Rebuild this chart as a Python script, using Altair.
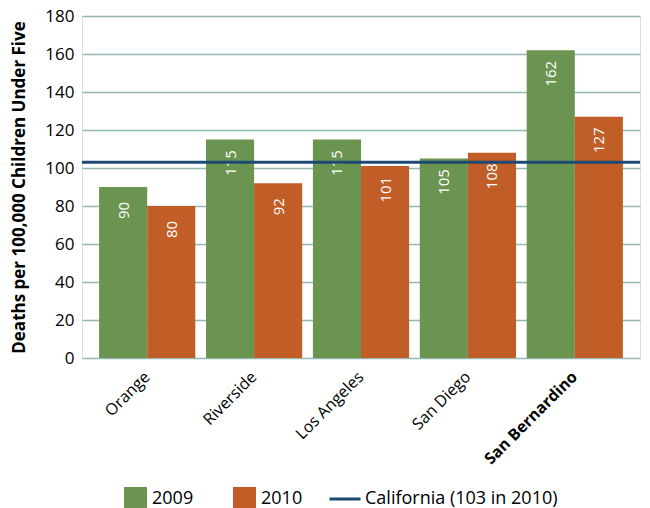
import altair as alt
import pandas as pd

counties = ["Orange", "Riverside", "Los Angeles", "San Diego", "San Bernardino"]
deaths_2009 = [90, 115, 115, 105, 162]
deaths_2010 = [80, 92, 101, 108, 127]
years = ["2009", "2010"]
ca_label = "California (103 in 2010)"
ca_value = [103]
y_ticks = [0, 20, 40, 60, 80, 100, 120, 140, 160, 180]

rows = []
for c, a, b in zip(counties, deaths_2009, deaths_2010):
    rows.append({"county": c, "series": "2009", "value": a})
    rows.append({"county": c, "series": "2010", "value": b})
df = pd.DataFrame(rows)
ca_df = pd.DataFrame({"series": [ca_label], "value": ca_value})

GREEN = "#6a9450"
ORANGE = "#c15e28"
NAVY = "#1d4a73"
GRID = "#94b9b0"
FONT = "Open Sans"

fill_legend = alt.Legend(
    title=None, orient="none", legendX=42, legendY=471, direction="horizontal",
    columnPadding=39, labelFontSize=18, labelFont=FONT, labelColor="black",
    labelLimit=0, labelOffset=5, symbolType="square", symbolSize=529,
    symbolStrokeWidth=0, symbolOpacity=1,
)
stroke_legend = alt.Legend(
    title=None, orient="none", legendX=246, legendY=466, direction="horizontal",
    labelFontSize=18, labelFont=FONT, labelColor="black",
    labelLimit=0, labelOffset=3, symbolType="stroke", symbolSize=961,
    symbolStrokeWidth=3, symbolOpacity=1,
)

x_axis = alt.Axis(
    labelAngle=-45, labelAlign="right", labelBaseline="middle", labelPadding=16,
    labelFontSize=16, labelFont=FONT, labelColor="black", ticks=False, domain=False, grid=False,
    labelOverlap=False, labelLimit=0,
    labelFontWeight=alt.ExprRef("datum.value === 'San Bernardino' ? 'bold' : 'normal'"),
)
y_axis = alt.Axis(
    values=y_ticks, ticks=False, domain=False, grid=True, gridColor=GRID, gridWidth=1.5,
    gridOpacity=1, labelFontSize=17, labelFont=FONT, labelColor="black", labelPadding=8,
    labelOverlap=False, labelBound=False, labelFlush=False,
    titleFontSize=17, titleFont=FONT, titleFontWeight="bold", titleColor="black", titlePadding=16,
)
x_scale = alt.Scale(paddingInner=0.1, paddingOuter=0.16)
y_scale = alt.Scale(domain=[0, 180], nice=False)
y_title = "Deaths per 100,000 Children Under Five"

bars = alt.Chart(df).mark_bar().encode(
    x=alt.X("county:N", sort=counties, title=None, scale=x_scale, axis=x_axis),
    xOffset=alt.XOffset("series:N", sort=years, scale=alt.Scale(paddingInner=0, paddingOuter=0)),
    y=alt.Y("value:Q", title=y_title, scale=y_scale, axis=y_axis),
    fill=alt.Fill("series:N", scale=alt.Scale(domain=years, range=[GREEN, ORANGE]), legend=fill_legend),
)

labels = alt.Chart(df).mark_text(
    angle=270, align="center", baseline="middle", dx=-23.5, dy=0.5, color="white", fontSize=15,
    font=FONT,
).encode(
    x=alt.X("county:N", sort=counties, title=None, scale=x_scale, axis=x_axis),
    xOffset=alt.XOffset("series:N", sort=years),
    y=alt.Y("value:Q", title=y_title, scale=y_scale, axis=y_axis),
    text=alt.Text("value:Q"),
)

rule = alt.Chart(ca_df).mark_rule(strokeWidth=3).encode(
    y=alt.Y("value:Q", title=y_title, scale=y_scale, axis=y_axis),
    stroke=alt.Stroke("series:N", scale=alt.Scale(domain=[ca_label], range=[NAVY]), legend=stroke_legend),
)

chart = alt.layer(bars, labels, rule).properties(
    width=558, height=342,
    autosize=alt.AutoSizeParams(type="none"),
    padding={"left": 74, "top": 8, "right": 2, "bottom": 150},
).configure_view(stroke=None).configure_axis(labelOverlap=False).configure(font=FONT)

chart.save("out.html", embed_options={"renderer": "svg", "actions": False})
